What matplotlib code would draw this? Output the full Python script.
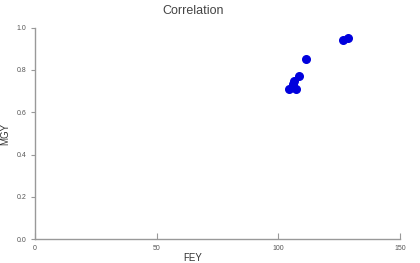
import matplotlib
matplotlib.use("Agg")
import matplotlib.pyplot as plt

# values
fey = [128.8, 126.5, 111.6, 108.6, 106.7, 106.1, 105.9, 104.5, 107.5]
mgy = [0.953, 0.940, 0.850, 0.770, 0.750, 0.735, 0.720, 0.710, 0.710]
xticks = [0, 50, 100, 150]
yticks = [0.0, 0.2, 0.4, 0.6, 0.8, 1.0]

plt.rcParams['font.family'] = ['Liberation Sans', 'DejaVu Sans']

fig = plt.figure(figsize=(4.2, 2.63), dpi=100)
ax = fig.add_axes([0.083, 0.090, 0.869, 0.805])

ax.scatter(fey, mgy, s=30, color='#0000dd', zorder=3)

ax.set_xlim(0, 150)
ax.set_ylim(0, 1.0)
ax.set_xticks(xticks)
ax.set_xticklabels([str(t) for t in xticks])
ax.set_yticks(yticks)
ax.set_yticklabels(['%.1f' % t for t in yticks])

for s in ['top', 'right']:
    ax.spines[s].set_visible(False)
for s in ['left', 'bottom']:
    ax.spines[s].set_color('#999999')
    ax.spines[s].set_linewidth(1.0)

ax.tick_params(axis='x', direction='in', length=4, color='#999999',
               labelsize=5, labelcolor='#555555', pad=4)
ax.tick_params(axis='y', direction='out', length=3, color='#999999',
               labelsize=5, labelcolor='#555555', pad=3)

ax.set_title('Correlation', fontsize=9, color='#444444', x=0.433, y=1.0, pad=10)
ax.set_xlabel('FEY', fontsize=7, color='#333333')
ax.xaxis.set_label_coords(0.433, -0.065)
ax.set_ylabel('MGY', fontsize=7, color='#333333')
ax.yaxis.set_label_coords(-0.068, 0.5)

fig.savefig('out.png', dpi=100)
